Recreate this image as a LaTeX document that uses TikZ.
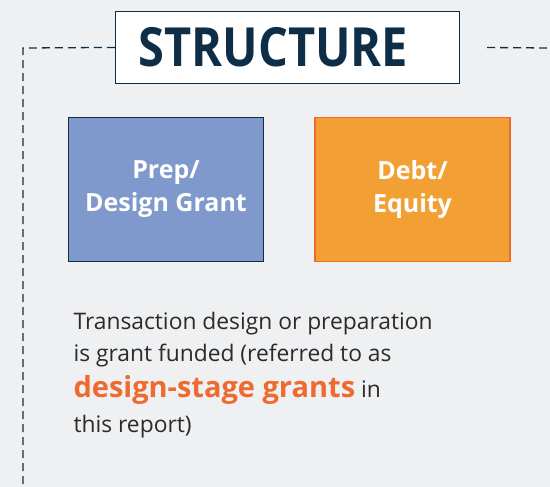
\documentclass[tikz,border=0pt]{standalone}
\usepackage{fontspec}
\setmainfont{Open Sans}
\usetikzlibrary{positioning}
\definecolor{bgGray}{HTML}{EFF0F2}
\definecolor{navy}{HTML}{0E2E47}
\definecolor{prepBlue}{HTML}{7F99CC}
\definecolor{debtOrange}{HTML}{F2A033}
\definecolor{edgeOrange}{HTML}{EE6A2F}
\definecolor{textGray}{HTML}{2B2B2B}
\tikzset{
    box/.style = {minimum width = 195pt, minimum height = 144pt, line width = 1.6pt,
        text = white, align = center, font = \fontsize{25}{33}\selectfont\bfseries},
}
\begin{document}
\begin{tikzpicture}[x = 1pt, y = -1pt]
        \useasboundingbox[fill = bgGray] (0,0) rectangle (550,487);
        \node[draw = navy, fill = white, line width = 1.3pt, minimum width = 344pt, minimum height = 72pt,
            text = navy, font = \fontsize{54}{54}\selectfont\bfseries] (title) at (287.5,47.5)
            {\scalebox{0.87}[1]{STRUCTURE}\hspace*{28pt}};
        \begin{scope}[style = dashed, dash pattern = on 8pt off 5pt, line width = 1.3pt, navy]
            \coordinate (corner) at (23,48);
            \coordinate (bottom) at (23,487);
            \coordinate (rightEnd) at (550,48);
            \draw (title.west) -- ++(-14,0) coordinate (leftEnd) -- (corner) -- (bottom);
            \draw (title.east) ++(27,0) -- (rightEnd);
        \end{scope}
        \node[box, draw = navy, fill = prepBlue] (prep) at (166,189.5) {Prep/\\Design Grant};
        \node[box, draw = edgeOrange, fill = debtOrange] (debt) at (412.5,189.5) {Debt/\\Equity};
        \begin{scope}[every node/.append style = {anchor = base west, text = textGray,
                font = \fontsize{22.8}{26}\selectfont}]
            \node (lineA) at (70,329) {Transaction design or preparation};
            \node (lineB) at (70,361) {is grant funded (referred to as};
            \node (lineC) at (70,397) {{\fontsize{29}{30}\selectfont\bfseries\color{edgeOrange}design-stage grants} in};
            \node (lineD) at (70,432) {this report)};
        \end{scope}
    \end{tikzpicture}
\end{document}
